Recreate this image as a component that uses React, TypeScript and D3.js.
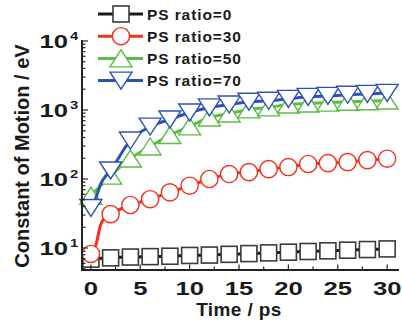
import React, { useEffect, useRef } from 'react';
import * as d3 from 'd3';

// time points where symbols are drawn (ps)
const times = [0, 2, 4, 6, 8, 10, 12, 14, 16, 18, 20, 22, 24, 26, 28, 30];

const ps0 = [6.9, 7.2, 7.4, 7.5, 7.6, 7.8, 7.9, 8.1, 8.3, 8.5, 8.7, 8.9, 9.1, 9.3, 9.5, 9.7];
const ps30 = [8.2, 31, 42, 51, 64, 80, 100, 118, 126, 139, 149, 165, 170, 176, 188, 197];
const ps50 = [57, 112, 198, 296, 434, 580, 780, 890, 1020, 1090, 1200, 1240, 1280, 1320, 1340, 1370];
const ps70 = [38, 133, 361, 575, 730, 920, 1090, 1200, 1320, 1360, 1450, 1550, 1600, 1660, 1710, 1770];

const ps30Early = [[0.5, 11], [1, 22], [1.5, 28]];
const ps70Early = [[0.5, 53], [1, 85]];

const seriesNames = ['PS ratio=0', 'PS ratio=30', 'PS ratio=50', 'PS ratio=70'];
const xTicks = [0, 5, 10, 15, 20, 25, 30];
const yTicks = [10, 100, 1000, 10000];
const yTickExp = ['1', '2', '3', '4'];

const FONT = 'Arial, "Liberation Sans", sans-serif';

function App() {
  const svgRef = useRef(null);
  const width = 402;
  const height = 324;

  useEffect(() => {
    const svg = d3.select(svgRef.current);
    svg.selectAll('*').remove();

    const x = d3.scaleLinear().domain([-0.9, 31.2]).range([82, 399]);
    const y = d3.scaleLog().domain([4.8, 10000]).range([270, 41]);

    const series = [
      { name: seriesNames[0], vals: ps0, extra: [], color: '#1a1a1a', mark: '#3a3a3a', shape: 'square' },
      { name: seriesNames[1], vals: ps30, extra: ps30Early, color: '#f3311f', mark: '#f3311f', shape: 'circle' },
      { name: seriesNames[2], vals: ps50, extra: [], color: '#5bbd45', mark: '#5bbd45', shape: 'up' },
      { name: seriesNames[3], vals: ps70, extra: ps70Early, color: '#2c52b4', mark: '#2c52b4', shape: 'down' },
    ];

    const drawMarker = (g, shape, color, cx, cy) => {
      if (shape === 'square') {
        g.append('rect')
          .attr('x', cx - 8).attr('y', cy - 8)
          .attr('width', 16).attr('height', 16)
          .attr('fill', 'white').attr('stroke', color).attr('stroke-width', 1.6);
      } else if (shape === 'circle') {
        g.append('circle')
          .attr('cx', cx).attr('cy', cy).attr('r', 8.6)
          .attr('fill', 'white').attr('stroke', color).attr('stroke-width', 1.4);
      } else {
        const s = shape === 'up' ? -1 : 1;
        g.append('path')
          .attr('d', `M${cx - 11},${cy - s * 8.5}L${cx + 11},${cy - s * 8.5}L${cx},${cy + s * 8.5}Z`)
          .attr('fill', 'white').attr('stroke', color).attr('stroke-width', 1.4)
          .attr('stroke-linejoin', 'miter');
      }
    };

    const line = d3.line()
      .x(d => x(d[0]))
      .y(d => y(d[1]))
      .curve(d3.curveMonotoneX);

    series.forEach(s => {
      const pts = times.map((t, i) => [t, s.vals[i]]).concat(s.extra).sort((a, b) => a[0] - b[0]);
      svg.append('path')
        .attr('d', line(pts))
        .attr('fill', 'none')
        .attr('stroke', s.color)
        .attr('stroke-width', 3);
      const g = svg.append('g');
      times.forEach((t, i) => drawMarker(g, s.shape, s.mark, x(t), y(s.vals[i])));
    });

    // axes
    const axis = svg.append('g').attr('stroke', '#222').attr('fill', 'none');
    axis.append('line').attr('x1', 82).attr('x2', 82).attr('y1', 40).attr('y2', 271).attr('stroke-width', 2);
    axis.append('line').attr('x1', 81).attr('x2', 399).attr('y1', 270).attr('y2', 270).attr('stroke-width', 2);

    // y ticks (log, pointing inward)
    for (let e = 0; e <= 3; e++) {
      for (let m = 1; m <= 9; m++) {
        const v = m * Math.pow(10, e);
        if (v < 4.8 || v > 10000) continue;
        const len = m === 1 ? 6 : 3.5;
        axis.append('line')
          .attr('x1', 82).attr('x2', 82 + len)
          .attr('y1', y(v)).attr('y2', y(v))
          .attr('stroke-width', 1.2);
      }
    }
    axis.append('line').attr('x1', 82).attr('x2', 88).attr('y1', y(10000)).attr('y2', y(10000)).attr('stroke-width', 1.2);

    // x ticks
    d3.range(0, 31, 2.5).forEach(v => {
      const major = v % 5 === 0;
      axis.append('line')
        .attr('x1', x(v)).attr('x2', x(v))
        .attr('y1', 270).attr('y2', 270 - (major ? 5.5 : 3.5))
        .attr('stroke-width', 1.2);
    });

    // tick labels
    xTicks.forEach(v => {
      svg.append('g')
        .attr('transform', `translate(${x(v)},294.5) scale(1.35,1)`)
        .append('text')
        .attr('text-anchor', 'middle')
        .attr('font-family', FONT)
        .attr('font-weight', 'bold')
        .attr('font-size', 19)
        .attr('fill', '#1a1a1a')
        .text(v);
    });

    yTicks.forEach((v, i) => {
      const g = svg.append('g').attr('transform', `translate(68,${y(v) + 7}) scale(1.35,1)`);
      g.append('text')
        .attr('text-anchor', 'end')
        .attr('font-family', FONT)
        .attr('font-weight', 'bold')
        .attr('font-size', 19)
        .attr('fill', '#1a1a1a')
        .text('10');
      g.append('text')
        .attr('x', 1.5)
        .attr('y', -8)
        .attr('font-family', FONT)
        .attr('font-weight', 'bold')
        .attr('font-size', 11)
        .attr('fill', '#1a1a1a')
        .text(yTickExp[i]);
    });

    // axis titles
    svg.append('text')
      .attr('x', 239).attr('y', 316)
      .attr('text-anchor', 'middle')
      .attr('font-family', FONT)
      .attr('font-weight', 'bold')
      .attr('font-size', 19)
      .attr('letter-spacing', 0.4)
      .attr('fill', '#1a1a1a')
      .text('Time / ps');

    svg.append('text')
      .attr('transform', 'translate(29,156) rotate(-90)')
      .attr('text-anchor', 'middle')
      .attr('font-family', FONT)
      .attr('font-weight', 'bold')
      .attr('font-size', 20)
      .attr('fill', '#1a1a1a')
      .text('Constant of Motion / eV');

    // legend
    series.forEach((s, i) => {
      const ly = 14 + i * 22.2;
      const g = svg.append('g');
      g.append('line')
        .attr('x1', 98).attr('x2', 143)
        .attr('y1', ly).attr('y2', ly)
        .attr('stroke', s.color).attr('stroke-width', 3);
      drawMarker(g, s.shape, s.mark, 121, ly);
      g.append('text')
        .attr('x', 147).attr('y', ly + 5.5)
        .attr('font-family', FONT)
        .attr('font-weight', 'bold')
        .attr('font-size', 15.5)
        .attr('letter-spacing', 0.9)
        .attr('fill', '#1a1a1a')
        .text(s.name);
    });
  }, []);

  return (
    <svg
      ref={svgRef}
      width={width}
      height={height}
      style={{ position: 'absolute', left: 0, top: 0, background: 'white' }}
    ></svg>
  );
}

export default App;
